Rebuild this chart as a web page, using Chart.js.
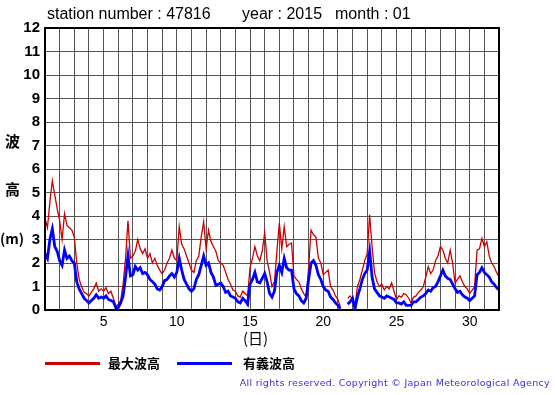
<!DOCTYPE html>
<html>
<head>
<meta charset="utf-8">
<script src="https://cdn.jsdelivr.net/npm/chart.js@4/dist/chart.umd.min.js"></script>
<style>
  html, body { margin: 0; padding: 0; background: #fff; }
  #wrap { position: relative; width: 555px; height: 395px; overflow: hidden; }
  #wrap canvas { position: absolute; left: 0; top: 0; }
  .t { position: absolute; white-space: nowrap; color: #000; }
  .title { font: 16px "Liberation Sans", Arial, sans-serif; top: 5px; }
  .jp { font: bold 15px "Noto Sans CJK JP", sans-serif; }
  .leg { position: absolute; height: 3px; }
  .copy { font: 9.5px "DejaVu Sans", sans-serif; color: #3333dd; letter-spacing: 0.3px; right: 5px; top: 377px; }
</style>
</head>
<body>
<div id="wrap">
  <canvas id="c" width="555" height="395"></canvas>
  <div class="t title" style="left:47px">station number : 47816</div>
  <div class="t title" style="left:242px">year : 2015</div>
  <div class="t title" style="left:335px">month : 01</div>
  <div class="t jp" style="left:5px;top:130px">波</div>
  <div class="t jp" style="left:5px;top:178px">高</div>
  <div class="t jp" style="left:0px;top:228px;font-size:14px">(m)</div>
  <div class="t jp" style="left:243px;top:327px;font-weight:normal">(日)</div>
  <div class="leg" style="left:45px;top:362px;width:55px;background:#cc0000"></div>
  <div class="t jp" style="left:108px;top:353px;font-size:13px">最大波高</div>
  <div class="leg" style="left:177px;top:362px;width:55px;background:#0000ff"></div>
  <div class="t jp" style="left:243px;top:353px;font-size:13px">有義波高</div>
  <div class="t copy">All rights reserved. Copyright © Japan Meteorological Agency</div>
</div>
<script>
// readings every 4 hours, day 1 00h .. day 32 00h (null = missing)
const STEPS_PER_DAY = 6;
const maxWave = [
  3.9, 3.5, 4.6, 5.5, 4.9, 4.3,
  3.8, 3.0, 4.1, 3.6, 3.5, 3.4,
  3.1, 2.0, 1.3, 1.0, 0.75, 0.7,
  0.6, 0.75, 0.9, 1.15, 0.8, 0.9,
  0.8, 0.95, 0.7, 0.8, 0.5, 0.15,
  0.25, 0.4, 1.1, 2.2, 3.8, 2.2,
  2.3, 2.5, 3.0, 2.6, 2.4, 2.6,
  2.2, 2.4, 2.0, 2.2, 1.9, 1.7,
  1.55, 1.7, 2.0, 2.2, 2.55, 2.2,
  2.1, 3.55, 2.8, 2.6, 2.3, 2.0,
  1.7, 1.6, 2.1, 2.3, 3.1, 3.75,
  2.6, 3.4, 2.9, 2.7, 2.5, 2.1,
  2.0, 1.9, 1.6, 1.3, 1.1, 0.85,
  0.8, 0.6, 0.55, 0.8, 0.7, 0.6,
  1.8, 2.2, 2.7, 2.3, 2.1, 2.5,
  3.3, 2.1, 1.6, 1.0, 1.2, 2.5,
  3.7, 2.6, 3.55, 2.7, 2.8, 2.85,
  1.45, 1.3, 1.2, 0.9, 0.7, 0.55,
  1.8, 3.4, 3.2, 3.1, 2.2, 2.0,
  1.5, 1.6, 1.7, 1.0, 0.85, 0.6,
  0.45, 0.15, null, null, 0.5, 0.6,
  0.45, 0.15, 1.0, 1.3, 1.7, 2.1,
  2.4, 4.05, 2.7, 1.6, 1.2, 1.0,
  1.1, 0.85, 1.0, 0.9, 1.15, 0.8,
  0.45, 0.6, 0.55, 0.7, 0.65, 0.5,
  0.3, 0.55, 0.6, 0.75, 0.85, 1.0,
  1.4, 1.85, 1.55, 1.7, 2.1, 2.3,
  2.7, 2.55, 2.2, 2.0, 2.55, 2.0,
  1.15, 1.3, 1.45, 1.2, 1.0, 0.9,
  0.7, 0.85, 1.0, 2.55, 2.6, 3.05,
  2.7, 2.9, 2.3, 2.0, 1.85, 1.6,
  1.42
];
const sigWave = [
  2.4, 2.2, 3.0, 3.45, 2.7, 2.5,
  2.1, 1.9, 2.55, 2.2, 2.3, 2.1,
  2.0, 1.2, 0.9, 0.7, 0.5, 0.4,
  0.3, 0.4, 0.5, 0.65, 0.5, 0.55,
  0.5, 0.6, 0.45, 0.4, 0.35, 0.1,
  0.1, 0.3, 0.6, 1.4, 2.3, 1.45,
  1.5, 1.85, 1.7, 1.8, 1.55, 1.6,
  1.5, 1.3, 1.2, 1.1, 0.9, 0.85,
  1.0, 1.25, 1.3, 1.45, 1.55, 1.4,
  1.6, 2.2, 1.7, 1.3, 1.1, 0.9,
  0.8, 0.9, 1.3, 1.5, 1.9, 2.3,
  1.9, 2.0, 1.6, 1.4, 1.05, 1.1,
  1.15, 1.0, 0.75, 0.8, 0.6, 0.55,
  0.5, 0.35, 0.3, 0.5, 0.4, 0.25,
  1.1, 1.3, 1.6, 1.2, 1.15, 1.35,
  1.55, 1.2, 0.7, 0.55, 0.8, 1.6,
  1.9, 1.6, 2.2, 1.8, 1.7, 1.7,
  0.9, 0.7, 0.6, 0.4, 0.3, 0.5,
  1.3, 2.0, 2.1, 1.9, 1.5, 1.3,
  1.0, 0.85, 0.8, 0.55, 0.45, 0.3,
  0.2, 0.05, null, null, 0.25, 0.35,
  0.5, 0.05, 0.55, 0.9, 1.3, 1.55,
  1.7, 2.5, 1.4, 0.9, 0.75, 0.6,
  0.55, 0.5, 0.6, 0.55, 0.5, 0.45,
  0.3, 0.3, 0.25, 0.35, 0.2, 0.2,
  0.2, 0.35, 0.35, 0.45, 0.55, 0.6,
  0.7, 0.85, 0.8, 0.95, 1.0, 1.2,
  1.45, 1.7, 1.45, 1.35, 1.3, 1.1,
  0.9, 0.75, 0.8, 0.65, 0.55, 0.5,
  0.4, 0.5, 0.6, 1.5, 1.6, 1.8,
  1.6, 1.5, 1.4, 1.2, 1.1, 0.95,
  0.85
];
const dayLabels = [5, 10, 15, 20, 25, 30];

const pts = arr => arr.map((v, i) => ({ x: 1 + i / STEPS_PER_DAY, y: v }));

// outer frame around the plot
const frame = {
  id: "frame",
  afterDraw(chart) {
    const a = chart.chartArea, ctx = chart.ctx;
    ctx.save();
    ctx.strokeStyle = "#000";
    ctx.lineWidth = 2;
    ctx.strokeRect(a.left, a.top, a.right - a.left, a.bottom - a.top);
    ctx.restore();
  },
};

new Chart(document.getElementById("c"), {
  type: "line",
  data: {
    datasets: [
      { label: "最大波高", data: pts(maxWave), borderColor: "#cc0000", borderWidth: 1.3, pointRadius: 0, tension: 0, spanGaps: false, order: 2 },
      { label: "有義波高", data: pts(sigWave), borderColor: "#0000ff", borderWidth: 2.8, pointRadius: 0, tension: 0, spanGaps: false, order: 1 },
    ],
  },
  options: {
    responsive: false, animation: false, events: [],
    layout: { padding: { top: 28, right: 56, left: 0, bottom: 0 } },
    plugins: { legend: { display: false }, tooltip: { enabled: false } },
    scales: {
      x: {
        type: "linear", min: 1, max: 32,
        afterFit: s => { s.height = 85; },
        afterBuildTicks: s => { s.ticks = []; for (let d = 1; d <= 32; d++) s.ticks.push({ value: d }); },
        grid: { color: "#555", lineWidth: 1, drawTicks: false },
        border: { display: false },
        ticks: {
          autoSkip: false, maxRotation: 0, padding: 4, color: "#000",
          font: { family: "Liberation Sans, Arial, sans-serif", size: 14 },
          callback: v => dayLabels.includes(v) ? String(v) : "",
        },
      },
      y: {
        min: 0, max: 12,
        afterFit: s => { s.width = 45; },
        grid: { color: "#555", lineWidth: 1, drawTicks: false },
        border: { display: false },
        ticks: {
          stepSize: 1, padding: 5, color: "#000",
          font: { family: "Liberation Sans, Arial, sans-serif", size: 15, weight: "bold" },
        },
      },
    },
  },
  plugins: [frame],
});
</script>
</body>
</html>
